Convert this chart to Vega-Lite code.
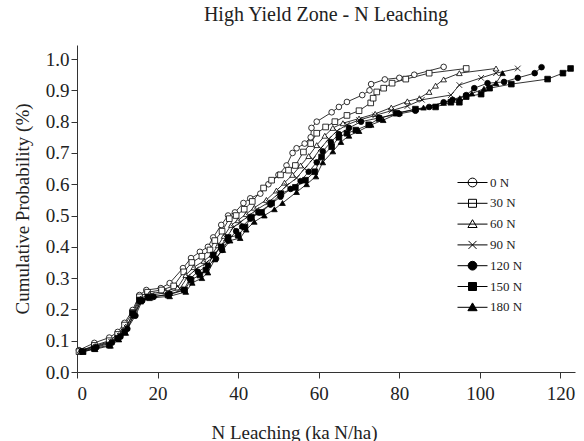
{
  "$schema": "https://vega.github.io/schema/vega-lite/v6.json",
  "width": 498,
  "height": 327,
  "autosize": "none",
  "padding": {"left": 77, "top": 45, "right": 9, "bottom": 69},
  "background": "white",
  "title": {"text": "High Yield Zone - N Leaching", "font": "Liberation Serif", "fontSize": 20, "fontWeight": "normal", "color": "#222", "offset": 20, "anchor": "middle"},
  "config": {
    "view": {"stroke": null},
    "axis": {"domainColor": "#333", "tickColor": "#333", "labelFont": "Liberation Serif", "titleFont": "Liberation Serif", "labelFontSize": 19, "titleFontSize": 19, "labelColor": "#222", "titleColor": "#222", "titleFontWeight": "normal", "grid": false, "tickSize": 6, "domainWidth": 1, "tickWidth": 1},
    "legend": {"title": null, "orient": "none", "legendX": 389, "legendY": 131, "padding": 0, "symbolSize": 64, "symbolOpacity": 1, "labelFont": "Liberation Serif", "labelFontSize": 13, "labelColor": "#222", "rowPadding": 6.8, "labelOffset": 11, "symbolStrokeWidth": 1}
  },
  "datasets": {
    "pts": [
      {"s":"0 N","x":0.5,"p":0.070},{"s":"0 N","x":4.3,"p":0.093},{"s":"0 N","x":8.0,"p":0.110},{"s":"0 N","x":10.1,"p":0.128},{"s":"0 N","x":11.8,"p":0.157},{"s":"0 N","x":13.8,"p":0.198},{"s":"0 N","x":15.5,"p":0.246},{"s":"0 N","x":17.2,"p":0.262},{"s":"0 N","x":20.8,"p":0.268},{"s":"0 N","x":23.0,"p":0.284},{"s":"0 N","x":26.3,"p":0.332},{"s":"0 N","x":28.3,"p":0.364},{"s":"0 N","x":30.5,"p":0.384},{"s":"0 N","x":32.5,"p":0.400},{"s":"0 N","x":33.8,"p":0.430},{"s":"0 N","x":35.8,"p":0.470},{"s":"0 N","x":37.5,"p":0.500},{"s":"0 N","x":39.2,"p":0.510},{"s":"0 N","x":41.3,"p":0.540},{"s":"0 N","x":43.0,"p":0.555},{"s":"0 N","x":45.5,"p":0.570},{"s":"0 N","x":47.5,"p":0.600},{"s":"0 N","x":50.0,"p":0.630},{"s":"0 N","x":52.0,"p":0.660},{"s":"0 N","x":53.5,"p":0.700},{"s":"0 N","x":54.5,"p":0.715},{"s":"0 N","x":56.5,"p":0.730},{"s":"0 N","x":58.0,"p":0.750},{"s":"0 N","x":58.2,"p":0.780},{"s":"0 N","x":59.5,"p":0.800},{"s":"0 N","x":63.2,"p":0.830},{"s":"0 N","x":65.0,"p":0.847},{"s":"0 N","x":67.0,"p":0.863},{"s":"0 N","x":70.8,"p":0.885},{"s":"0 N","x":72.6,"p":0.900},{"s":"0 N","x":73.0,"p":0.920},{"s":"0 N","x":76.4,"p":0.935},{"s":"0 N","x":80.0,"p":0.940},{"s":"0 N","x":83.7,"p":0.950},{"s":"0 N","x":91.0,"p":0.975},
      {"s":"30 N","x":0.5,"p":0.065},{"s":"30 N","x":4.3,"p":0.085},{"s":"30 N","x":8.0,"p":0.100},{"s":"30 N","x":10.1,"p":0.120},{"s":"30 N","x":11.8,"p":0.150},{"s":"30 N","x":13.8,"p":0.190},{"s":"30 N","x":15.5,"p":0.240},{"s":"30 N","x":17.5,"p":0.255},{"s":"30 N","x":21.0,"p":0.262},{"s":"30 N","x":24.0,"p":0.275},{"s":"30 N","x":26.5,"p":0.320},{"s":"30 N","x":28.5,"p":0.350},{"s":"30 N","x":31.0,"p":0.370},{"s":"30 N","x":33.0,"p":0.390},{"s":"30 N","x":34.2,"p":0.420},{"s":"30 N","x":36.0,"p":0.450},{"s":"30 N","x":37.8,"p":0.490},{"s":"30 N","x":39.5,"p":0.500},{"s":"30 N","x":41.5,"p":0.520},{"s":"30 N","x":43.5,"p":0.545},{"s":"30 N","x":46.3,"p":0.588},{"s":"30 N","x":48.3,"p":0.613},{"s":"30 N","x":50.5,"p":0.630},{"s":"30 N","x":52.5,"p":0.645},{"s":"30 N","x":54.2,"p":0.660},{"s":"30 N","x":56.2,"p":0.703},{"s":"30 N","x":58.0,"p":0.730},{"s":"30 N","x":59.5,"p":0.763},{"s":"30 N","x":61.7,"p":0.783},{"s":"30 N","x":64.0,"p":0.800},{"s":"30 N","x":67.0,"p":0.820},{"s":"30 N","x":70.0,"p":0.835},{"s":"30 N","x":72.9,"p":0.860},{"s":"30 N","x":73.5,"p":0.875},{"s":"30 N","x":74.4,"p":0.895},{"s":"30 N","x":76.1,"p":0.907},{"s":"30 N","x":78.2,"p":0.923},{"s":"30 N","x":81.6,"p":0.936},{"s":"30 N","x":87.4,"p":0.955},{"s":"30 N","x":96.6,"p":0.970},
      {"s":"60 N","x":0.8,"p":0.068},{"s":"60 N","x":4.5,"p":0.083},{"s":"60 N","x":8.3,"p":0.098},{"s":"60 N","x":10.4,"p":0.118},{"s":"60 N","x":12.1,"p":0.145},{"s":"60 N","x":14.1,"p":0.185},{"s":"60 N","x":15.8,"p":0.235},{"s":"60 N","x":18.0,"p":0.250},{"s":"60 N","x":22.0,"p":0.258},{"s":"60 N","x":25.0,"p":0.270},{"s":"60 N","x":27.0,"p":0.310},{"s":"60 N","x":29.0,"p":0.335},{"s":"60 N","x":31.5,"p":0.355},{"s":"60 N","x":33.5,"p":0.375},{"s":"60 N","x":35.0,"p":0.405},{"s":"60 N","x":36.5,"p":0.435},{"s":"60 N","x":38.3,"p":0.470},{"s":"60 N","x":40.0,"p":0.485},{"s":"60 N","x":42.0,"p":0.505},{"s":"60 N","x":44.0,"p":0.525},{"s":"60 N","x":47.0,"p":0.550},{"s":"60 N","x":49.5,"p":0.580},{"s":"60 N","x":51.5,"p":0.605},{"s":"60 N","x":53.5,"p":0.630},{"s":"60 N","x":55.5,"p":0.660},{"s":"60 N","x":57.5,"p":0.690},{"s":"60 N","x":59.5,"p":0.725},{"s":"60 N","x":61.5,"p":0.755},{"s":"60 N","x":63.5,"p":0.780},{"s":"60 N","x":66.0,"p":0.795},{"s":"60 N","x":70.0,"p":0.810},{"s":"60 N","x":74.0,"p":0.825},{"s":"60 N","x":78.0,"p":0.845},{"s":"60 N","x":82.0,"p":0.865},{"s":"60 N","x":85.0,"p":0.875},{"s":"60 N","x":87.4,"p":0.895},{"s":"60 N","x":89.0,"p":0.915},{"s":"60 N","x":91.0,"p":0.935},{"s":"60 N","x":94.9,"p":0.955},{"s":"60 N","x":104.0,"p":0.970},
      {"s":"90 N","x":1.0,"p":0.067},{"s":"90 N","x":4.6,"p":0.081},{"s":"90 N","x":8.5,"p":0.096},{"s":"90 N","x":10.6,"p":0.116},{"s":"90 N","x":12.3,"p":0.142},{"s":"90 N","x":14.3,"p":0.182},{"s":"90 N","x":16.0,"p":0.230},{"s":"90 N","x":18.5,"p":0.246},{"s":"90 N","x":22.5,"p":0.254},{"s":"90 N","x":25.5,"p":0.266},{"s":"90 N","x":27.5,"p":0.305},{"s":"90 N","x":29.5,"p":0.328},{"s":"90 N","x":32.0,"p":0.348},{"s":"90 N","x":34.0,"p":0.370},{"s":"90 N","x":35.5,"p":0.398},{"s":"90 N","x":37.0,"p":0.428},{"s":"90 N","x":38.8,"p":0.462},{"s":"90 N","x":40.5,"p":0.478},{"s":"90 N","x":42.5,"p":0.498},{"s":"90 N","x":44.5,"p":0.518},{"s":"90 N","x":47.5,"p":0.542},{"s":"90 N","x":50.0,"p":0.570},{"s":"90 N","x":52.0,"p":0.595},{"s":"90 N","x":54.5,"p":0.620},{"s":"90 N","x":56.5,"p":0.650},{"s":"90 N","x":58.5,"p":0.680},{"s":"90 N","x":60.5,"p":0.715},{"s":"90 N","x":62.5,"p":0.745},{"s":"90 N","x":64.5,"p":0.770},{"s":"90 N","x":67.0,"p":0.790},{"s":"90 N","x":70.0,"p":0.805},{"s":"90 N","x":74.0,"p":0.820},{"s":"90 N","x":78.0,"p":0.835},{"s":"90 N","x":82.0,"p":0.850},{"s":"90 N","x":85.6,"p":0.870},{"s":"90 N","x":92.8,"p":0.885},{"s":"90 N","x":94.9,"p":0.917},{"s":"90 N","x":100.3,"p":0.940},{"s":"90 N","x":104.0,"p":0.955},{"s":"90 N","x":109.4,"p":0.970},
      {"s":"120 N","x":1.2,"p":0.066},{"s":"120 N","x":4.8,"p":0.079},{"s":"120 N","x":8.7,"p":0.094},{"s":"120 N","x":10.8,"p":0.113},{"s":"120 N","x":12.5,"p":0.138},{"s":"120 N","x":14.5,"p":0.180},{"s":"120 N","x":16.2,"p":0.228},{"s":"120 N","x":19.0,"p":0.240},{"s":"120 N","x":23.0,"p":0.250},{"s":"120 N","x":26.5,"p":0.262},{"s":"120 N","x":28.0,"p":0.298},{"s":"120 N","x":30.0,"p":0.320},{"s":"120 N","x":32.5,"p":0.340},{"s":"120 N","x":34.5,"p":0.362},{"s":"120 N","x":36.0,"p":0.390},{"s":"120 N","x":37.5,"p":0.420},{"s":"120 N","x":39.5,"p":0.450},{"s":"120 N","x":41.0,"p":0.465},{"s":"120 N","x":43.0,"p":0.490},{"s":"120 N","x":45.0,"p":0.510},{"s":"120 N","x":48.0,"p":0.535},{"s":"120 N","x":50.5,"p":0.560},{"s":"120 N","x":53.0,"p":0.585},{"s":"120 N","x":55.5,"p":0.610},{"s":"120 N","x":57.5,"p":0.640},{"s":"120 N","x":59.5,"p":0.670},{"s":"120 N","x":61.0,"p":0.705},{"s":"120 N","x":63.0,"p":0.735},{"s":"120 N","x":65.0,"p":0.760},{"s":"120 N","x":67.5,"p":0.780},{"s":"120 N","x":70.5,"p":0.800},{"s":"120 N","x":75.0,"p":0.812},{"s":"120 N","x":80.0,"p":0.825},{"s":"120 N","x":84.0,"p":0.835},{"s":"120 N","x":87.4,"p":0.847},{"s":"120 N","x":91.0,"p":0.862},{"s":"120 N","x":93.2,"p":0.870},{"s":"120 N","x":96.6,"p":0.885},{"s":"120 N","x":98.6,"p":0.907},{"s":"120 N","x":101.9,"p":0.923},{"s":"120 N","x":106.0,"p":0.927},{"s":"120 N","x":109.4,"p":0.940},{"s":"120 N","x":113.6,"p":0.955},{"s":"120 N","x":115.3,"p":0.974},
      {"s":"150 N","x":1.5,"p":0.065},{"s":"150 N","x":4.3,"p":0.075},{"s":"150 N","x":8.0,"p":0.086},{"s":"150 N","x":10.1,"p":0.108},{"s":"150 N","x":11.8,"p":0.128},{"s":"150 N","x":13.8,"p":0.188},{"s":"150 N","x":15.5,"p":0.230},{"s":"150 N","x":17.6,"p":0.240},{"s":"150 N","x":22.6,"p":0.246},{"s":"150 N","x":26.7,"p":0.262},{"s":"150 N","x":28.3,"p":0.294},{"s":"150 N","x":30.5,"p":0.310},{"s":"150 N","x":32.0,"p":0.326},{"s":"150 N","x":33.8,"p":0.374},{"s":"150 N","x":35.8,"p":0.400},{"s":"150 N","x":37.5,"p":0.430},{"s":"150 N","x":40.0,"p":0.437},{"s":"150 N","x":41.7,"p":0.463},{"s":"150 N","x":43.3,"p":0.495},{"s":"150 N","x":45.8,"p":0.510},{"s":"150 N","x":48.3,"p":0.540},{"s":"150 N","x":50.6,"p":0.570},{"s":"150 N","x":54.2,"p":0.590},{"s":"150 N","x":56.7,"p":0.613},{"s":"150 N","x":59.0,"p":0.640},{"s":"150 N","x":60.7,"p":0.687},{"s":"150 N","x":63.2,"p":0.720},{"s":"150 N","x":65.0,"p":0.750},{"s":"150 N","x":67.0,"p":0.763},{"s":"150 N","x":69.2,"p":0.773},{"s":"150 N","x":72.4,"p":0.790},{"s":"150 N","x":75.0,"p":0.810},{"s":"150 N","x":79.2,"p":0.827},{"s":"150 N","x":84.0,"p":0.840},{"s":"150 N","x":89.0,"p":0.847},{"s":"150 N","x":92.8,"p":0.862},{"s":"150 N","x":94.9,"p":0.862},{"s":"150 N","x":96.6,"p":0.880},{"s":"150 N","x":100.3,"p":0.888},{"s":"150 N","x":102.4,"p":0.907},{"s":"150 N","x":107.8,"p":0.920},{"s":"150 N","x":116.8,"p":0.936},{"s":"150 N","x":120.6,"p":0.955},{"s":"150 N","x":122.5,"p":0.970},
      {"s":"180 N","x":1.5,"p":0.065},{"s":"180 N","x":4.5,"p":0.073},{"s":"180 N","x":8.3,"p":0.084},{"s":"180 N","x":10.4,"p":0.104},{"s":"180 N","x":12.1,"p":0.125},{"s":"180 N","x":14.0,"p":0.180},{"s":"180 N","x":15.8,"p":0.225},{"s":"180 N","x":18.0,"p":0.236},{"s":"180 N","x":23.0,"p":0.242},{"s":"180 N","x":27.0,"p":0.256},{"s":"180 N","x":28.6,"p":0.285},{"s":"180 N","x":31.0,"p":0.300},{"s":"180 N","x":32.5,"p":0.318},{"s":"180 N","x":34.2,"p":0.360},{"s":"180 N","x":36.2,"p":0.390},{"s":"180 N","x":38.0,"p":0.420},{"s":"180 N","x":40.5,"p":0.428},{"s":"180 N","x":42.0,"p":0.455},{"s":"180 N","x":44.0,"p":0.480},{"s":"180 N","x":46.5,"p":0.500},{"s":"180 N","x":49.0,"p":0.520},{"s":"180 N","x":51.0,"p":0.540},{"s":"180 N","x":54.5,"p":0.575},{"s":"180 N","x":57.0,"p":0.600},{"s":"180 N","x":59.3,"p":0.625},{"s":"180 N","x":61.0,"p":0.670},{"s":"180 N","x":63.5,"p":0.705},{"s":"180 N","x":65.5,"p":0.735},{"s":"180 N","x":67.5,"p":0.755},{"s":"180 N","x":70.0,"p":0.770},{"s":"180 N","x":73.0,"p":0.790},{"s":"180 N","x":76.0,"p":0.805},{"s":"180 N","x":80.0,"p":0.828},{"s":"180 N","x":86.0,"p":0.845},{"s":"180 N","x":91.0,"p":0.860},{"s":"180 N","x":95.0,"p":0.875},{"s":"180 N","x":98.0,"p":0.890},{"s":"180 N","x":101.0,"p":0.905},{"s":"180 N","x":104.0,"p":0.923},{"s":"180 N","x":105.6,"p":0.955}
    ]
  },
  "data": {"name": "pts"},
  "encoding": {
    "x": {"field": "x", "type": "quantitative", "scale": {"domain": [0, 123.6], "nice": false, "zero": false}, "axis": {"values": [0,20,40,60,80,100,120], "title": "N Leaching (ka N/ha)", "labelPadding": 6, "titleX": 217, "titleY": 66, "titleBaseline": "alphabetic"}},
    "y": {"field": "p", "type": "quantitative", "scale": {"domain": [0, 1.045], "nice": false}, "axis": {"values": [0,0.1,0.2,0.3,0.4,0.5,0.6,0.7,0.8,0.9,1.0], "format": ".1f", "title": "Cumulative Probability (%)", "labelPadding": 2, "titleX": -55, "titleBaseline": "middle"}}
  },
  "layer": [
    {"mark": {"type": "line", "color": "black", "strokeWidth": 0.8}, "encoding": {"detail": {"field": "s"}, "order": {"field": "p"}}},
    {"mark": {"type": "point", "filled": true, "size": 32, "stroke": "black", "strokeWidth": 0.8, "opacity": 1},
     "encoding": {
       "shape": {"field": "s", "type": "nominal", "legend": null, "scale": {"domain": ["0 N","30 N","60 N","90 N","120 N","150 N","180 N"], "range": ["circle","square","triangle-up","M-1,-1L1,1M-1,1L1,-1","circle","square","triangle-up"]}},
       "fill": {"field": "s", "type": "nominal", "legend": null, "scale": {"domain": ["0 N","30 N","60 N","90 N","120 N","150 N","180 N"], "range": ["white","white","white","white","black","black","black"]}}
     }},
    {"mark": {"type": "point", "filled": true, "size": 0, "stroke": "black", "strokeWidth": 1, "opacity": 0},
     "encoding": {
       "shape": {"field": "s", "type": "nominal", "scale": {"domain": ["0 N","30 N","60 N","90 N","120 N","150 N","180 N"], "range": ["M-3.75,0L3.75,0M1.1,0A1.1,1.1,0,1,1,-1.1,0A1.1,1.1,0,1,1,1.1,0Z","M-3.75,0L3.75,0M-1,-1L1,-1L1,1L-1,1Z","M-3.75,0L3.75,0M0,-1.1L1.15,0.85L-1.15,0.85Z","M-3.75,0L3.75,0M-1,-1L1,1M-1,1L1,-1","M-3.75,0L3.75,0M1.1,0A1.1,1.1,0,1,1,-1.1,0A1.1,1.1,0,1,1,1.1,0Z","M-3.75,0L3.75,0M-1,-1L1,-1L1,1L-1,1Z","M-3.75,0L3.75,0M0,-1.1L1.15,0.85L-1.15,0.85Z"]}},
       "fill": {"field": "s", "type": "nominal", "scale": {"domain": ["0 N","30 N","60 N","90 N","120 N","150 N","180 N"], "range": ["white","white","white","white","black","black","black"]}}
     }}
  ],
  "resolve": {"scale": {"shape": "independent", "fill": "independent"}}
}
